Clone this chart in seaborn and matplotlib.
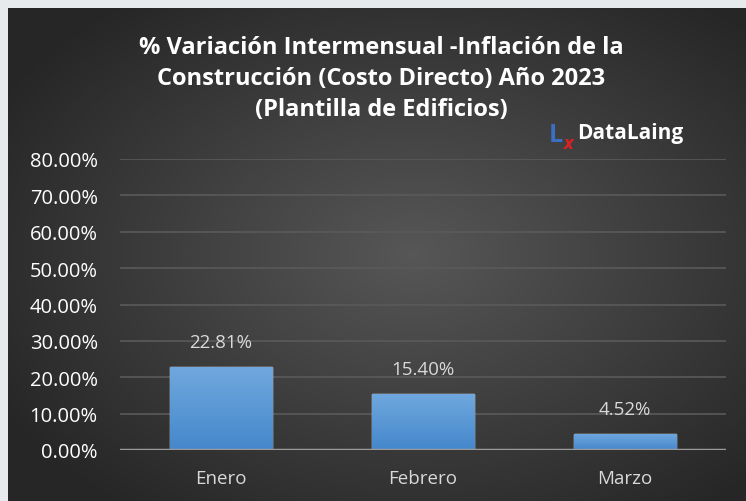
import numpy as np
import pandas as pd
import matplotlib
matplotlib.use("Agg")
import matplotlib.pyplot as plt
import seaborn as sns

meses = ["Enero", "Febrero", "Marzo"]
variacion = [0.2281, 0.1540, 0.0452]
etiquetas = ["22.81%", "15.40%", "4.52%"]
y_ticks = [0.0, 0.1, 0.2, 0.3, 0.4, 0.5, 0.6, 0.7, 0.8]
titulo = ("% Variación Intermensual -Inflación de la\n"
          "Construcción (Costo Directo) Año 2023\n"
          "(Plantilla de Edificios)")

sns.set_style("dark")
plt.rcParams['font.family'] = ['Open Sans', 'DejaVu Sans']

W, H = 746, 502
fig = plt.figure(figsize=(W / 100, H / 100), dpi=100)
fig.patch.set_facecolor("#e7eaed")

# dark panel with radial gradient
bg = fig.add_axes([8 / W, 0, (W - 8) / W, (H - 9) / H])
yy, xx = np.mgrid[0:1:300j, 0:1:400j]
r = np.sqrt(((xx - 0.55) / 0.75) ** 2 + ((yy - 0.5) / 0.75) ** 2)
shade = np.clip(0.34 - 0.22 * r, 0.15, 0.34)
bg.imshow(np.dstack([shade] * 3), aspect="auto", extent=[0, 1, 0, 1], origin="lower")
bg.set_axis_off()

ax = fig.add_axes([120 / W, (H - 451) / H, 606 / W, 291 / H])
ax.set_facecolor("none")
df = pd.DataFrame({"mes": meses, "valor": variacion})
sns.barplot(data=df, x="mes", y="valor", color="#5b9bd5", width=0.505, ax=ax, zorder=3)

# vertical gradient on bars
grad = np.linspace(0, 1, 100).reshape(-1, 1)
top = np.array([0.44, 0.66, 0.87])
bot = np.array([0.27, 0.53, 0.80])
img = bot + (top - bot) * grad[..., None]
for i, p in enumerate(ax.patches):
    x0, w, h = p.get_x(), p.get_width(), p.get_height()
    im = ax.imshow(img, extent=[x0, x0 + w, 0, h], origin="lower", aspect="auto", zorder=4)
    im.set_clip_path(p)
    ax.text(x0 + w / 2, h + 0.068, etiquetas[i],
            ha="center", va="center", color="#d9d9d9", fontsize=13.5)

ax.set_xlim(-0.5, 2.5)
ax.set_ylim(0, 0.8)
ax.set_yticks(y_ticks)
ax.set_yticklabels([f"{t * 100:.2f}%" for t in y_ticks])
ax.grid(axis="y", color="#5a5a5a", linewidth=1.2, zorder=0)
ax.grid(axis="x", visible=False)
for s in ax.spines.values():
    s.set_visible(False)
ax.axhline(0, color="#9a9a9a", linewidth=2.5, zorder=5)
ax.tick_params(axis="y", length=0, pad=16, labelsize=14.5, labelcolor="white")
ax.tick_params(axis="x", length=0, pad=14, labelsize=13.5, labelcolor="#d9d9d9")
ax.set_xlabel("")
ax.set_ylabel("")

fig.text(381 / W, 1 - 79 / H, titulo, ha="center", va="center", color="white",
         fontsize=17, fontweight="bold", linespacing=1.38)

# logo
fig.text(549 / W, 1 - 135 / H, "L", ha="left", va="center", color="#3a6fc4",
         fontsize=18, fontweight="bold")
fig.text(564 / W, 1 - 144 / H, "x", ha="left", va="center", color="#e02020",
         fontsize=13, fontweight="bold", fontstyle="italic")
fig.text(577 / W, 1 - 134 / H, "DataLaing", ha="left", va="center", color="white",
         fontsize=15, fontweight="bold")

fig.savefig("out.png", dpi=100, facecolor=fig.get_facecolor())
